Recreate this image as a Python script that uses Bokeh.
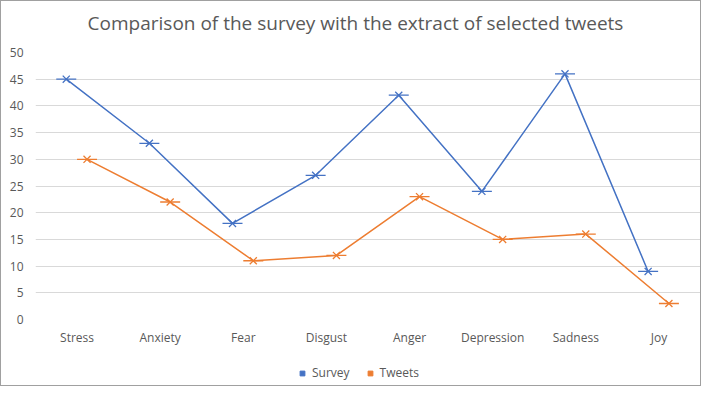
from bokeh.plotting import figure
from bokeh.models import ColumnDataSource, Legend, LegendItem, FixedTicker, Range1d, Label
from bokeh.transform import dodge
from bokeh.layouts import column
from bokeh.embed import file_html
from bokeh.resources import INLINE

categories = ["Stress", "Anxiety", "Fear", "Disgust", "Anger", "Depression", "Sadness", "Joy"]
survey = [45, 33, 18, 27, 42, 24, 46, 9]
tweets = [30, 22, 11, 12, 23, 15, 16, 3]
y_ticks = [0, 5, 10, 15, 20, 25, 30, 35, 40, 45, 50]
title_text = "Comparison of the survey with the extract of selected tweets"

BLUE = "#4472C4"
ORANGE = "#ED7D31"
GRAY = "#595959"
FONT = "Open Sans"

src = ColumnDataSource(dict(cat=categories, survey=survey, tweets=tweets))

def strip(h, **kw):
    f = figure(width=699, height=h, x_axis_type=None, y_axis_type=None,
               output_backend="svg", toolbar_location=None,
               min_border_left=0, min_border_right=0, min_border_top=0, min_border_bottom=0, **kw)
    f.outline_line_color = None
    f.xgrid.grid_line_color = None
    f.ygrid.grid_line_color = None
    return f

# title strip
tf = strip(40, x_range=Range1d(0, 1), y_range=Range1d(0, 1))
tf.add_layout(Label(x=320, y=19, x_units="screen", y_units="screen", text=title_text,
                    text_align="center", text_baseline="middle", text_font=FONT,
                    text_font_size="19px", text_color=GRAY))

# main chart
p = figure(width=699, height=307, x_range=categories, y_range=Range1d(0, 50),
           output_backend="svg", toolbar_location=None,
           min_border_left=34, min_border_right=0, min_border_top=11, min_border_bottom=28)
p.outline_line_color = None

xs = dodge("cat", -0.13, range=p.x_range)
xt = dodge("cat", 0.12, range=p.x_range)

for x, col, color in [(xs, "survey", BLUE), (xt, "tweets", ORANGE)]:
    p.line(x=x, y=col, source=src, line_color=color, line_width=1.5)
    p.scatter(x=x, y=col, source=src, marker="x", size=10, line_color=color, line_width=1.3)
    p.scatter(x=x, y=col, source=src, marker="dash", size=20, line_color=color, line_width=1.3)

p.yaxis.ticker = FixedTicker(ticks=y_ticks)
p.ygrid.ticker = FixedTicker(ticks=y_ticks)
p.ygrid.grid_line_color = "#D9D9D9"
p.xgrid.grid_line_color = None
for ax in [p.xaxis[0], p.yaxis[0]]:
    ax.axis_line_color = None
    ax.major_tick_line_color = None
    ax.minor_tick_line_color = None
    ax.major_label_text_font = FONT
    ax.major_label_text_color = GRAY
    ax.major_label_text_font_size = "12px"
p.yaxis.major_label_standoff = 6
p.xaxis.major_label_standoff = 3

# legend strip (swatch renderers lie outside this strip's y range, so only the legend shows)
lf = strip(37, x_range=categories, y_range=Range1d(-2, -1))
l1 = lf.scatter(x="cat", y="survey", source=src, marker="square", size=20,
                fill_color=BLUE, line_color=BLUE)
l2 = lf.scatter(x="cat", y="tweets", source=src, marker="square", size=20,
                fill_color=ORANGE, line_color=ORANGE)
legend = Legend(items=[LegendItem(label="Survey", renderers=[l1]),
                       LegendItem(label="Tweets", renderers=[l2])],
                orientation="horizontal", location=(261, 4),
                label_text_font=FONT, label_text_font_size="12px", label_text_color=GRAY,
                border_line_color=None, background_fill_alpha=0,
                glyph_width=12, glyph_height=12, spacing=14, label_standoff=4,
                padding=4, margin=0)
lf.add_layout(legend)

layout = column(tf, p, lf, spacing=0)
layout.styles = {"border": "1px solid #a0a0a0"}

open("out.html", "w").write(file_html(layout, INLINE))
